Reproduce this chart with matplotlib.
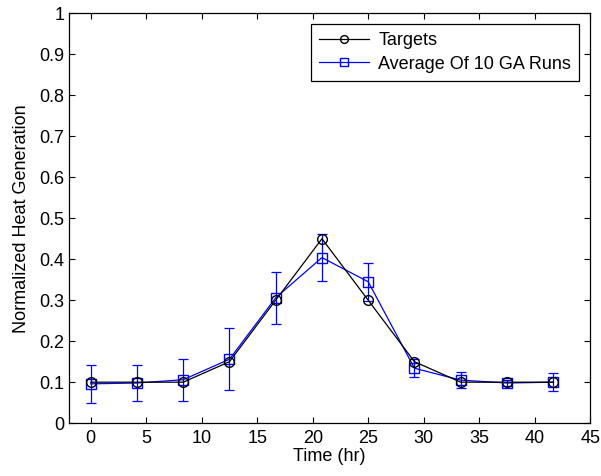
import matplotlib
matplotlib.use("Agg")
import matplotlib.pyplot as plt
from matplotlib.container import ErrorbarContainer

plt.rcParams['font.family'] = ['Liberation Sans', 'DejaVu Sans']

time_hr = [0, 4.1667, 8.3333, 12.5, 16.6667, 20.8333, 25, 29.1667, 33.3333, 37.5, 41.6667]
targets = [0.10, 0.10, 0.10, 0.15, 0.30, 0.45, 0.30, 0.15, 0.10, 0.10, 0.10]
ga_avg = [0.096, 0.098, 0.106, 0.156, 0.306, 0.404, 0.345, 0.134, 0.105, 0.098, 0.100]
ga_err = [0.046, 0.044, 0.051, 0.075, 0.063, 0.057, 0.047, 0.022, 0.019, 0.008, 0.022]
x_ticks = [0, 5, 10, 15, 20, 25, 30, 35, 40, 45]
y_ticks = [0, 0.1, 0.2, 0.3, 0.4, 0.5, 0.6, 0.7, 0.8, 0.9, 1]
y_tick_labels = ['0', '0.1', '0.2', '0.3', '0.4', '0.5', '0.6', '0.7', '0.8', '0.9', '1']

FS = 13

fig = plt.figure(figsize=(6.01, 4.76), dpi=100)
ax = fig.add_axes([0.114, 0.111, 0.868, 0.861])

ax.plot(time_hr, targets, color='black', marker='o', markersize=7, markerfacecolor='none',
        linewidth=0.9, label='Targets', zorder=3)
ax.errorbar(time_hr, ga_avg, yerr=ga_err, color='blue', marker='s', markersize=7,
            markerfacecolor='none', linewidth=0.9, elinewidth=0.9, capsize=3.4, capthick=0.9,
            label='Average Of 10 GA Runs', zorder=2)

ax.set_xlim(-2, 45)
ax.set_ylim(0, 1)
ax.set_xticks(x_ticks)
ax.set_xticklabels([str(v) for v in x_ticks])
ax.set_yticks(y_ticks)
ax.set_yticklabels(y_tick_labels)
ax.tick_params(direction='in', top=True, right=True, labelsize=FS, length=4, width=0.8)
ax.tick_params(axis='x', pad=5)
ax.tick_params(axis='y', pad=3)
for s in ax.spines.values():
    s.set_linewidth(0.9)
ax.set_xlabel('Time (hr)', fontsize=FS, labelpad=1)
ax.set_ylabel('Normalized Heat Generation', fontsize=FS, labelpad=7)

handles, labels = ax.get_legend_handles_labels()
handles = [h[0] if isinstance(h, ErrorbarContainer) else h for h in handles]
leg = ax.legend(handles, labels, loc='upper right', fontsize=FS, fancybox=False,
                edgecolor='black', framealpha=1, borderaxespad=0.6, handlelength=2.8,
                handletextpad=0.5, labelspacing=0.35, borderpad=0.45, markerscale=0.8)
leg.get_frame().set_linewidth(0.9)

fig.savefig('out.png', dpi=100)
